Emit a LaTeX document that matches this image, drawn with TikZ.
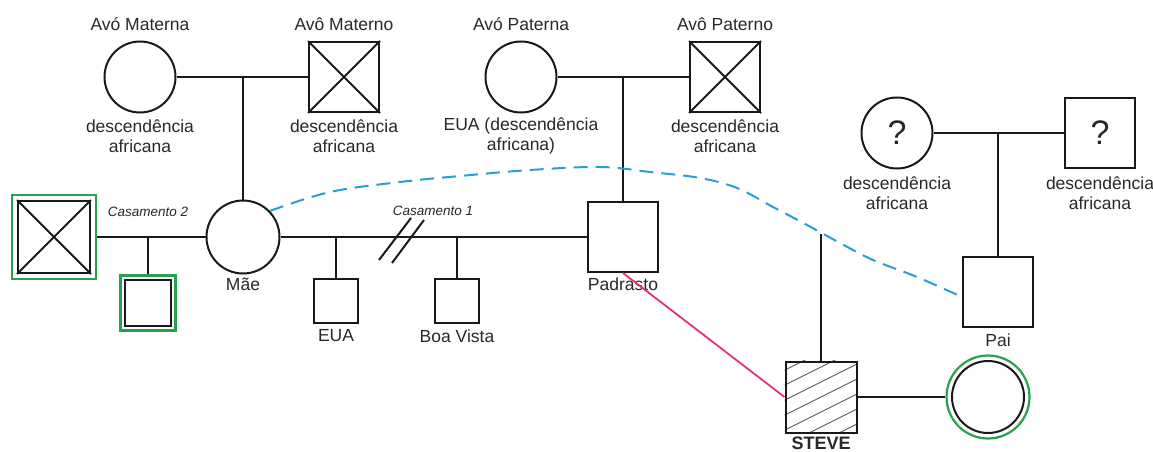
\documentclass[tikz,border=0pt]{standalone}
\usepackage{fontspec}
\setmainfont{Liberation Sans}
\usetikzlibrary{calc}
\definecolor{txt}{RGB}{40,40,40}
\definecolor{grn}{RGB}{40,160,80}
\definecolor{dblue}{RGB}{40,158,212}
\definecolor{pink}{RGB}{226,50,120}
\tikzset{
  line/.style={line width=2pt, black!90},
  fem/.style={circle, draw, line width=2pt, black!90, minimum size=71pt, inner sep=0pt},
  male/.style={rectangle, draw, line width=2pt, black!90, minimum size=70pt, inner sep=0pt},
  kid/.style={rectangle, draw, line width=2pt, black!90, minimum size=44pt, inner sep=0pt},
  gframe/.style={draw=grn, line width=2.2pt, inner sep=0pt},
  lbl/.style={text=txt, font=\fontsize{17.5}{19.5}\selectfont, align=center, inner sep=0pt},
  marr/.style={text=txt, font=\fontsize{13.5}{15}\selectfont\itshape, inner sep=0pt},
  qmark/.style={text=txt, font=\fontsize{34}{36}\selectfont},
  dsh/.style={dblue, line width=2pt, dash pattern=on 14pt off 8pt},
}
\begin{document}
\begin{tikzpicture}[x=1pt,y=-1pt]
\useasboundingbox (0,0) rectangle (1153,452);

% maternal grandparents
\node[fem] (avom) at (140,77) {};
\node[male] (avomo) at (344,77) {};
\draw[line] (avomo.north west) -- (avomo.south east) (avomo.north east) -- (avomo.south west);
\node[lbl] (tavom) at (140,24) {Avó Materna};
\node[lbl] (tavomo) at (344,24) {Avô Materno};
\node[lbl] (davom) at (140,136) {descendência\\africana};
\node[lbl] (davomo) at (344,136) {descendência\\africana};

% paternal grandparents (stepfather side)
\node[fem] (avop) at (521,77) {};
\node[male] (avopo) at (725,77) {};
\draw[line] (avopo.north west) -- (avopo.south east) (avopo.north east) -- (avopo.south west);
\node[lbl] (tavop) at (521,24) {Avó Paterna};
\node[lbl] (tavopo) at (725,24) {Avô Paterno};
\node[lbl] (davop) at (521,136) {EUA (descendência\\africana)};
\node[lbl] (davopo) at (725,136) {descendência\\africana};

% father's parents (unknown)
\node[fem] (qf) at (897,133) {};
\node[male] (qm) at (1100,133) {};
\node[qmark] (qft) at (qf) {?};
\node[qmark] (qmt) at (qm) {?};
\node[lbl] (dqf) at (897,193) {descendência\\africana};
\node[lbl] (dqm) at (1100,193) {descendência\\africana};

% middle generation
\node[fem, minimum size=73pt] (mae) at (243,237) {};
\node[lbl] (tmae) at (243,284) {Mãe};
\node[male] (pad) at (623,237) {};
\node[lbl] (tpad) at (623,284) {Padrasto};
\node[male] (pai) at (998,292) {};
\node[lbl] (tpai) at (998,340) {Pai};

% first husband (deceased) with green frame
\node[gframe, minimum size=84pt] (lbg) at (54,237) {};
\node[male, minimum size=72pt] (lb) at (54,237) {};
\draw[line] (lb.north west) -- (lb.south east) (lb.north east) -- (lb.south west);
\node[marr] (cas2) at (148,212) {Casamento 2};

% child of second marriage
\node[gframe, minimum size=55pt] (kg) at (148,303) {};
\node[kid, minimum size=46pt] (k) at (148,303) {};

% children of first marriage
\node[kid] (eua) at (336,301) {};
\node[lbl] (teua) at (336,336) {EUA};
\node[kid] (bv) at (457,301) {};
\node[lbl] (tbv) at (457,336) {Boa Vista};
\node[marr] (cas1) at (433,211) {Casamento 1};

% Steve and partner
\node[male, minimum size=71pt] (steve) at (821,397) {};
\begin{scope}
  \clip (steve.south west) rectangle (steve.north east);
  \foreach \c in {-60,-45,...,60}
    \draw[gray!80!black, line width=1pt] (781,397+\c+20) -- (861,397+\c-20);
\end{scope}
\node[male, minimum size=71pt] (steveb) at (821,397) {};
\node[text=txt, font=\fontsize{18}{20}\selectfont\bfseries, inner sep=0pt] (tsteve) at (821,443) {STEVE};
\node[circle, draw=grn, line width=2.2pt, minimum size=83pt, inner sep=0pt] (pg) at (988,397) {};
\node[fem, minimum size=72pt] (p) at (988,397) {};

% couple and descent lines
\draw[line] (avom.east) -- (avomo.west);
\draw[line] (mae.north) -- (mae.north |- avom.east);
\draw[line] (avop.east) -- (avopo.west);
\draw[line] (pad.north) -- (pad.north |- avop.east);
\draw[line] (qf.east) -- (qm.west);
\draw[line] (pai.north) -- (pai.north |- qf.east);
\draw[line] (lbg.east) -- (mae.west);
\draw[line] (kg.north) -- (kg.north |- mae.west);
\draw[line] (mae.east) -- (pad.west);
\draw[line] (eua.north) -- (eua.north |- mae.east);
\draw[line] (bv.north) -- (bv.north |- mae.east);
\coordinate (brk) at (401,240);
\draw[line] ($(brk)+(-22,20)$) -- ++(32,-42);
\draw[line] ($(brk)+(-9,23)$) -- ++(32,-43);
\draw[line] (steveb.east) -- (pg.west);
\coordinate (join) at (821,234);
\draw[line] (steveb.north) -- (join);

% relationship lines
\draw[pink, line width=1.8pt] (pad.south) -- (steveb.west);
\draw[dsh] plot[smooth, tension=0.6] coordinates {(mae.44) (330,192) (400,182) (460,176) (530,170) (600,167) (650,172) (700,178) (737,188) (773,207) (807,225) (840,243) (873,260) (917,277) ([yshift=-5pt]pai.west)};
\end{tikzpicture}
\end{document}
